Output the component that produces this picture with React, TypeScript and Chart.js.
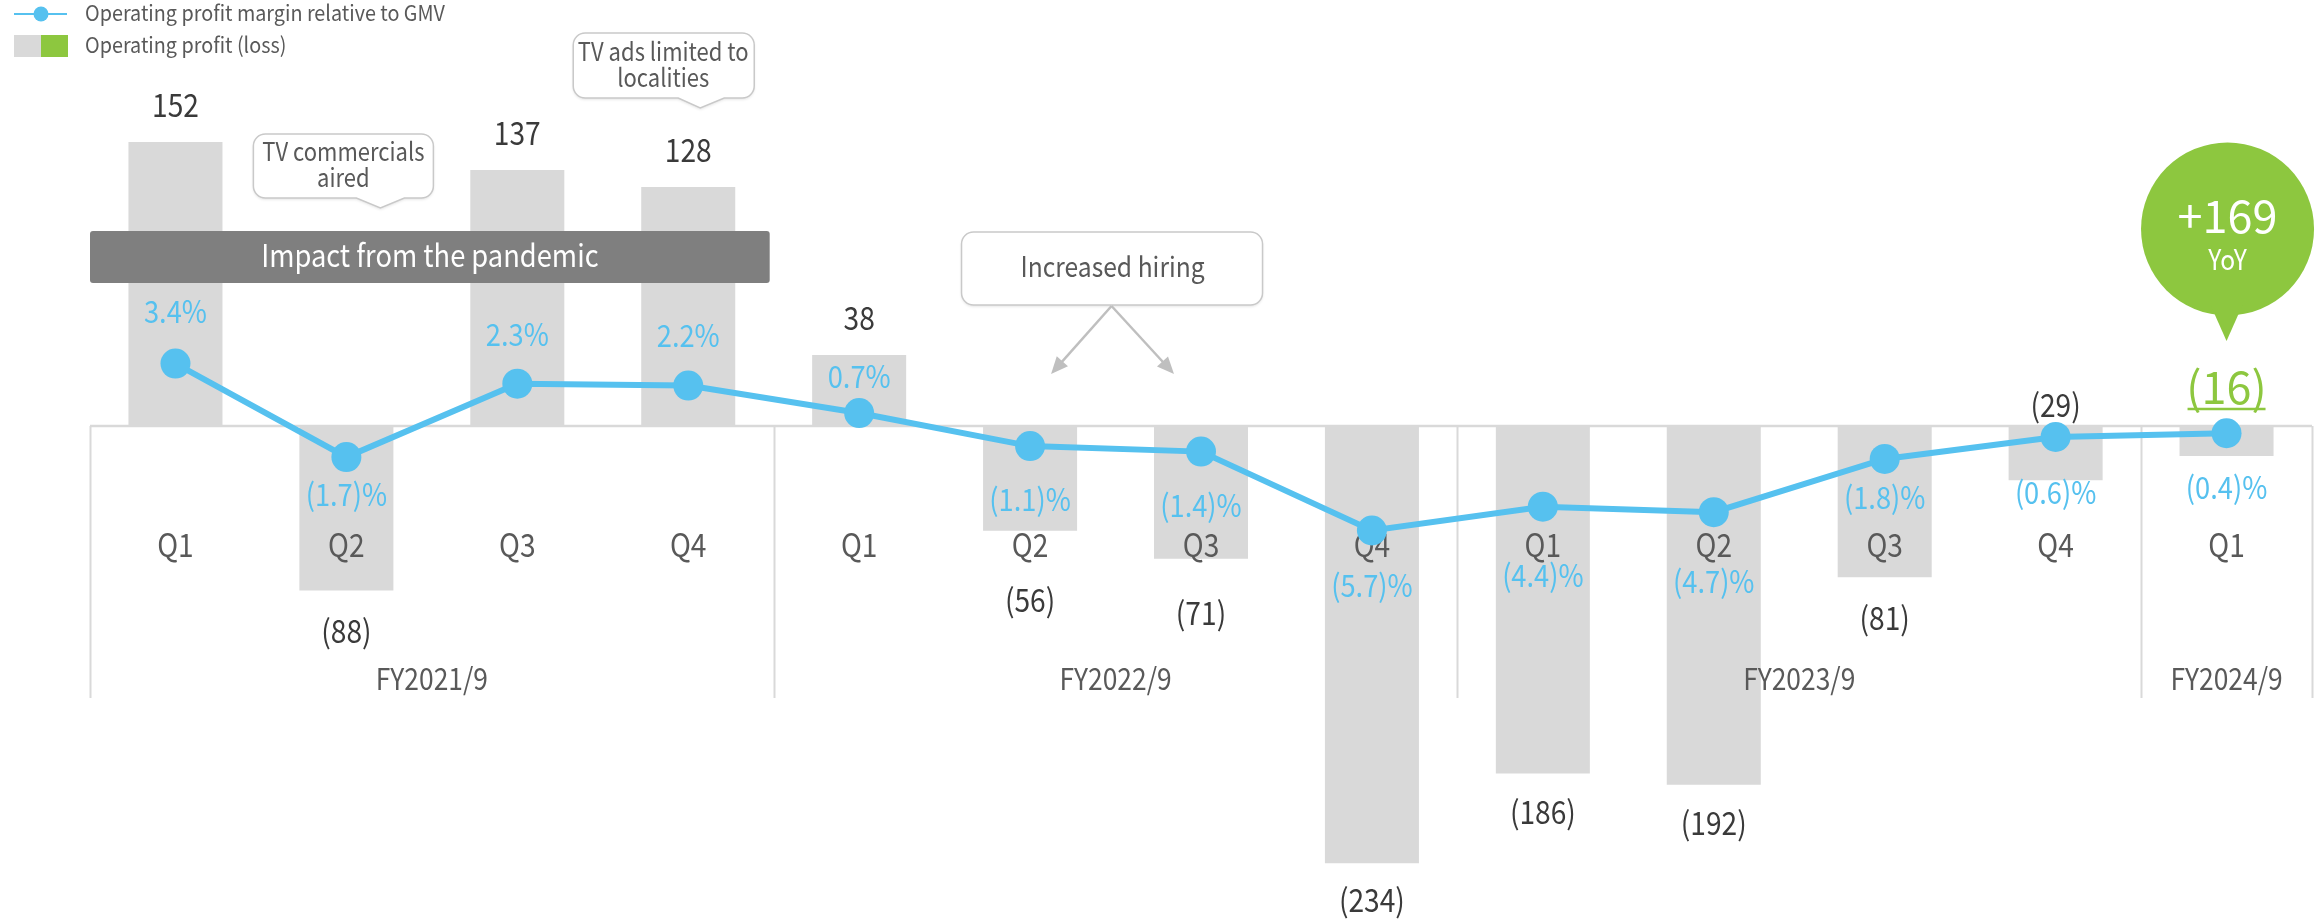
import React, { useEffect, useRef } from "react";
import { Chart, registerables } from "chart.js";

Chart.register(...registerables);

// ---------- data ----------
const quarters = ["Q1", "Q2", "Q3", "Q4", "Q1", "Q2", "Q3", "Q4", "Q1", "Q2", "Q3", "Q4", "Q1"];
const fiscalYears = ["FY2021/9", "FY2022/9", "FY2023/9", "FY2024/9"];
const quartersPerYear = [4, 4, 4, 1];
const operatingProfit = [152, -88, 137, 128, 38, -56, -71, -234, -186, -192, -81, -29, -16];
const marginPct = [3.4, -1.7, 2.3, 2.2, 0.7, -1.1, -1.4, -5.7, -4.4, -4.7, -1.8, -0.6, -0.4];
const yoyChange = "+169";
const yoyLabel = "YoY";
const legendLabels = ["Operating profit margin relative to GMV", "Operating profit (loss)"];
const bandText = "Impact from the pandemic";
const calloutCommercials = ["TV commercials", "aired"];
const calloutLocalAds = ["TV ads limited to", "localities"];
const calloutHiring = "Increased hiring";

// label placement (px gap from the mark end / point)
const barLabelGap = [-36, 42, -36, -35, -36, 71, 56, 38, 40, 40, 42, -74, -67];
const marginLabelGap = [-51, 39, -48, -49, -35, 55, 55, 56, 70, 71, 40, 57, 56];

// ---------- styles ----------
const FONT = '"Noto Sans CJK JP", "Source Sans Pro", Lato, sans-serif';
const SX = 0.88; // horizontal condensation of text
const BLUE = "#56c1ef";
const GREEN = "#8dc73f";
const BAR_GREY = "#d9d9d9";
const LINE_GREY = "#d9d9d9";
const TEXT_DARK = "#3a3a3a";
const TEXT_MID = "#595959";
const BAND = "#7f7f7f";
const BOX_BORDER = "#c9c9c9";
const ARROW = "#bfbfbf";

function fmtBar(v: number) {
  return v < 0 ? `(${Math.abs(v)})` : `${v}`;
}
function fmtPct(v: number) {
  return v < 0 ? `(${Math.abs(v).toFixed(1)})%` : `${v.toFixed(1)}%`;
}

function drawText(
  ctx: CanvasRenderingContext2D,
  str: string,
  x: number,
  cy: number,
  size: number,
  color: string,
  align: CanvasTextAlign = "center",
  sx: number = SX
) {
  ctx.save();
  ctx.font = `${size}px ${FONT}`;
  ctx.fillStyle = color;
  ctx.textAlign = align;
  ctx.textBaseline = "alphabetic";
  ctx.translate(x, cy + size * 0.33);
  ctx.scale(sx, 1);
  ctx.fillText(str, 0, 0);
  ctx.restore();
}

function calloutPath(
  ctx: CanvasRenderingContext2D,
  x: number,
  y: number,
  w: number,
  h: number,
  r: number,
  tail?: { x0: number; x1: number; tipX: number; tipY: number }
) {
  ctx.beginPath();
  ctx.moveTo(x + r, y);
  ctx.lineTo(x + w - r, y);
  ctx.arcTo(x + w, y, x + w, y + r, r);
  ctx.lineTo(x + w, y + h - r);
  ctx.arcTo(x + w, y + h, x + w - r, y + h, r);
  if (tail) {
    ctx.lineTo(tail.x1, y + h);
    ctx.lineTo(tail.tipX, tail.tipY);
    ctx.lineTo(tail.x0, y + h);
  }
  ctx.lineTo(x + r, y + h);
  ctx.arcTo(x, y + h, x, y + h - r, r);
  ctx.lineTo(x, y + r);
  ctx.arcTo(x, y, x + r, y, r);
  ctx.closePath();
}

function drawCallout(
  ctx: CanvasRenderingContext2D,
  x: number,
  y: number,
  w: number,
  h: number,
  tail?: { x0: number; x1: number; tipX: number; tipY: number }
) {
  ctx.save();
  calloutPath(ctx, x, y, w, h, 12, tail);
  ctx.shadowColor = "rgba(0,0,0,0.12)";
  ctx.shadowBlur = 3;
  ctx.shadowOffsetY = 1.5;
  ctx.fillStyle = "#ffffff";
  ctx.fill();
  ctx.shadowColor = "transparent";
  ctx.lineWidth = 1.5;
  ctx.strokeStyle = BOX_BORDER;
  ctx.stroke();
  ctx.restore();
}

function drawArrow(ctx: CanvasRenderingContext2D, x0: number, y0: number, x1: number, y1: number) {
  const ang = Math.atan2(y1 - y0, x1 - x0);
  const head = 17;
  const hw = 7.5;
  ctx.save();
  ctx.strokeStyle = ARROW;
  ctx.fillStyle = ARROW;
  ctx.lineWidth = 2.5;
  ctx.beginPath();
  ctx.moveTo(x0, y0);
  ctx.lineTo(x1 - Math.cos(ang) * head * 0.8, y1 - Math.sin(ang) * head * 0.8);
  ctx.stroke();
  ctx.beginPath();
  ctx.moveTo(x1, y1);
  const bx = x1 - Math.cos(ang) * head;
  const by = y1 - Math.sin(ang) * head;
  ctx.lineTo(bx + Math.sin(ang) * hw, by - Math.cos(ang) * hw);
  ctx.lineTo(bx - Math.sin(ang) * hw, by + Math.cos(ang) * hw);
  ctx.closePath();
  ctx.fill();
  ctx.restore();
}

const overlay = {
  id: "overlay",
  beforeDatasetsDraw(chart: any) {
    const ctx: CanvasRenderingContext2D = chart.ctx;
    const xs = chart.scales.x;
    const y0 = chart.scales.y.getPixelForValue(0);
    const step = xs.getPixelForValue(1) - xs.getPixelForValue(0);
    const area = chart.chartArea;
    ctx.save();
    ctx.strokeStyle = LINE_GREY;
    ctx.lineWidth = 2.5;
    ctx.beginPath();
    ctx.moveTo(area.left, y0);
    ctx.lineTo(area.right, y0);
    ctx.stroke();
    // group separators
    ctx.lineWidth = 2;
    let idx = 0;
    const bounds: number[] = [0];
    quartersPerYear.forEach((n) => {
      idx += n;
      bounds.push(idx);
    });
    bounds.forEach((b) => {
      const px = Math.round(xs.getPixelForValue(b) - step / 2) + 0.5;
      ctx.beginPath();
      ctx.moveTo(px, y0);
      ctx.lineTo(px, y0 + 272);
      ctx.stroke();
    });
    ctx.restore();
  },
  afterDatasetDraw(chart: any, args: any) {
    if (args.meta.type !== "bar") return;
    const ctx: CanvasRenderingContext2D = chart.ctx;
    const xs = chart.scales.x;
    const y0 = chart.scales.y.getPixelForValue(0);
    const step = xs.getPixelForValue(1) - xs.getPixelForValue(0);
    // quarter labels
    quarters.forEach((q, i) => {
      drawText(ctx, q, xs.getPixelForValue(i), y0 + 120, 32, TEXT_MID);
    });
    // fiscal year labels
    let start = 0;
    fiscalYears.forEach((fy, k) => {
      const n = quartersPerYear[k];
      const left = xs.getPixelForValue(start) - step / 2;
      const right = xs.getPixelForValue(start + n - 1) + step / 2;
      drawText(ctx, fy, (left + right) / 2, y0 + 254, 30, TEXT_MID);
      start += n;
    });
    // pandemic band (covers FY2021/9)
    const bandL = xs.getPixelForValue(0) - step / 2;
    const bandR = xs.getPixelForValue(3) + step / 2 - 4;
    ctx.save();
    ctx.fillStyle = BAND;
    ctx.beginPath();
    ctx.roundRect(bandL, 231, bandR - bandL, 52, 3);
    ctx.fill();
    ctx.restore();
    drawText(ctx, bandText, (bandL + bandR) / 2, 257, 31, "#ffffff");
  },
  afterDatasetsDraw(chart: any) {
    const ctx: CanvasRenderingContext2D = chart.ctx;
    const xs = chart.scales.x;
    const ys = chart.scales.y;
    const ys2 = chart.scales.y2;
    const last = operatingProfit.length - 1;

    // bar value labels
    operatingProfit.forEach((v, i) => {
      const x = xs.getPixelForValue(i);
      const end = ys.getPixelForValue(v);
      const y = end + barLabelGap[i];
      if (i === last) {
        drawText(ctx, fmtBar(v), x, y, 45, GREEN, "center", 1);
        ctx.save();
        ctx.strokeStyle = GREEN;
        ctx.lineWidth = 2.5;
        ctx.beginPath();
        ctx.moveTo(x - 39, y + 20);
        ctx.lineTo(x + 39, y + 20);
        ctx.stroke();
        ctx.restore();
      } else {
        drawText(ctx, fmtBar(v), x, y, 32, TEXT_DARK);
      }
    });

    // margin labels
    marginPct.forEach((v, i) => {
      const x = xs.getPixelForValue(i);
      const y = ys2.getPixelForValue(v) + marginLabelGap[i];
      drawText(ctx, fmtPct(v), x, y, 31, BLUE);
    });

    // callout: TV commercials aired
    const c1 = xs.getPixelForValue(1);
    drawCallout(ctx, c1 - 93, 134, 180, 64, { x0: c1 + 10, x1: c1 + 58, tipX: c1 + 34, tipY: 208 });
    drawText(ctx, calloutCommercials[0], c1 - 3, 153, 25, TEXT_MID);
    drawText(ctx, calloutCommercials[1], c1 - 3, 179, 25, TEXT_MID);

    // callout: TV ads limited to localities
    const c3 = xs.getPixelForValue(3);
    drawCallout(ctx, c3 - 115, 33, 181, 65, { x0: c3 - 10, x1: c3 + 36, tipX: c3 + 12, tipY: 108 });
    drawText(ctx, calloutLocalAds[0], c3 - 25, 53, 25, TEXT_MID);
    drawText(ctx, calloutLocalAds[1], c3 - 25, 79, 25, TEXT_MID);

    // callout: Increased hiring with arrows
    const c5 = xs.getPixelForValue(5);
    const c6 = xs.getPixelForValue(6);
    const mid = (c5 + c6) / 2;
    drawCallout(ctx, mid - 154, 232, 301, 73);
    drawText(ctx, calloutHiring, mid - 3, 268, 28, TEXT_MID);
    drawArrow(ctx, mid - 4, 306, c5 + 21, 374);
    drawArrow(ctx, mid - 4, 306, c6 - 27, 374);

    // YoY bubble
    const cl = xs.getPixelForValue(last);
    ctx.save();
    ctx.fillStyle = GREEN;
    ctx.beginPath();
    ctx.arc(cl + 1, 229, 86.5, 0, Math.PI * 2);
    ctx.fill();
    ctx.beginPath();
    ctx.moveTo(cl - 16, 305);
    ctx.lineTo(cl + 16, 305);
    ctx.lineTo(cl, 341);
    ctx.closePath();
    ctx.fill();
    ctx.restore();
    drawText(ctx, yoyChange, cl + 1, 218, 45, "#ffffff", "center", 1);
    drawText(ctx, yoyLabel, cl + 1, 261, 28, "#ffffff");

    // legend
    ctx.save();
    ctx.strokeStyle = BLUE;
    ctx.lineWidth = 2;
    ctx.beginPath();
    ctx.moveTo(14, 14);
    ctx.lineTo(67, 14);
    ctx.stroke();
    ctx.fillStyle = BLUE;
    ctx.beginPath();
    ctx.arc(41, 14, 7.5, 0, Math.PI * 2);
    ctx.fill();
    ctx.fillStyle = BAR_GREY;
    ctx.fillRect(14, 35, 27, 22);
    ctx.fillStyle = GREEN;
    ctx.fillRect(41, 35, 27, 22);
    ctx.restore();
    drawText(ctx, legendLabels[0], 85, 14, 21.5, TEXT_MID, "left", 0.92);
    drawText(ctx, legendLabels[1], 85, 46, 21.5, TEXT_MID, "left", 0.92);
  },
};

export default function App() {
  const ref = useRef<HTMLCanvasElement>(null);
  useEffect(() => {
    document.body.style.margin = "0";
    const canvas = ref.current as HTMLCanvasElement;
    const chart = new Chart(canvas, {
      type: "bar",
      data: {
        labels: quarters,
        datasets: [
          {
            type: "line",
            label: legendLabels[0],
            data: marginPct,
            yAxisID: "y2",
            order: 0,
            borderColor: BLUE,
            backgroundColor: BLUE,
            borderWidth: 6,
            pointRadius: 15,
            pointHoverRadius: 15,
            pointBorderWidth: 0,
            pointBackgroundColor: BLUE,
            tension: 0,
          } as any,
          {
            type: "bar",
            label: legendLabels[1],
            data: operatingProfit,
            yAxisID: "y",
            order: 1,
            backgroundColor: BAR_GREY,
            barPercentage: 0.55,
            categoryPercentage: 1,
          } as any,
        ],
      },
      options: {
        responsive: false,
        animation: false,
        devicePixelRatio: 1,
        events: [],
        layout: { autoPadding: false, padding: { left: 90, right: 6, top: 0, bottom: 0 } },
        plugins: { legend: { display: false }, tooltip: { enabled: false } },
        scales: {
          x: { display: false, offset: true },
          y: { display: false, min: -263.9, max: 228.05 },
          y2: { display: false, min: -26.87, max: 23.21 },
        },
      } as any,
      plugins: [overlay as any],
    });
    return () => chart.destroy();
  }, []);
  return <canvas ref={ref} width={2318} height={919} style={{ display: "block" }} />;
}
